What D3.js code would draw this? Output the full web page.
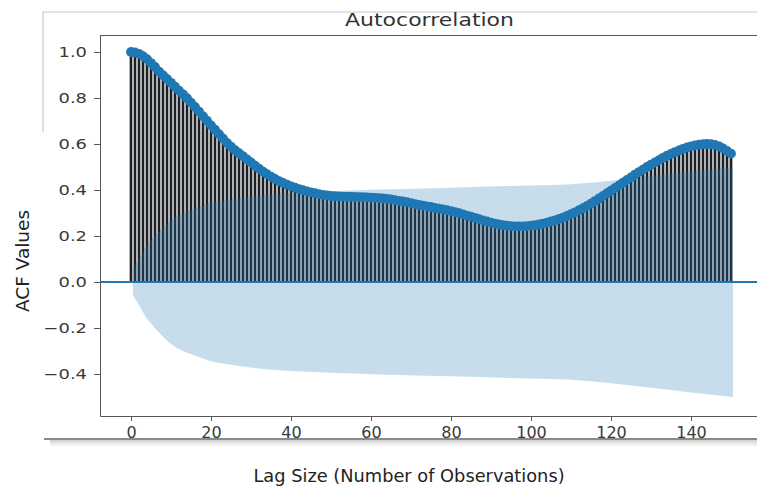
<!DOCTYPE html>
<html>
<head>
<meta charset="utf-8">
<script src="https://cdn.jsdelivr.net/npm/d3@7"></script>
<style>
body { margin: 0; background: #fff; }
svg { display: block; font-family: "DejaVu Sans", sans-serif; }
</style>
</head>
<body>
<svg id="chart" width="757" height="488"></svg>
<script>
// autocorrelation per lag (lag 0..150)
var acfValues = [
    1.000, 0.998, 0.992, 0.982, 0.969, 0.952, 0.935, 0.915, 0.899, 0.883,
    0.866, 0.849, 0.832, 0.816, 0.799, 0.780, 0.761, 0.741, 0.721, 0.701,
    0.681, 0.662, 0.643, 0.624, 0.605, 0.588, 0.573, 0.560, 0.547, 0.533,
    0.520, 0.506, 0.493, 0.480, 0.469, 0.458, 0.448, 0.439, 0.431, 0.423,
    0.416, 0.410, 0.404, 0.399, 0.394, 0.390, 0.386, 0.382, 0.379, 0.376,
    0.374, 0.373, 0.372, 0.371, 0.371, 0.370, 0.370, 0.369, 0.369, 0.368,
    0.367, 0.366, 0.365, 0.363, 0.361, 0.359, 0.356, 0.353, 0.350, 0.347,
    0.343, 0.339, 0.335, 0.332, 0.329, 0.326, 0.322, 0.319, 0.316, 0.312,
    0.308, 0.304, 0.299, 0.294, 0.289, 0.284, 0.279, 0.273, 0.268, 0.263,
    0.258, 0.254, 0.250, 0.247, 0.245, 0.243, 0.242, 0.242, 0.242, 0.243,
    0.245, 0.247, 0.250, 0.254, 0.258, 0.263, 0.268, 0.274, 0.280, 0.287,
    0.295, 0.303, 0.312, 0.321, 0.331, 0.341, 0.352, 0.363, 0.374, 0.386,
    0.397, 0.409, 0.420, 0.432, 0.444, 0.455, 0.467, 0.478, 0.489, 0.500,
    0.510, 0.520, 0.530, 0.540, 0.549, 0.557, 0.565, 0.572, 0.579, 0.585,
    0.590, 0.594, 0.597, 0.599, 0.600, 0.599, 0.596, 0.590, 0.581, 0.570,
    0.558
];

// confidence band half-width at selected lags
var bandLags = [0.5, 2, 3, 4, 5, 7, 10, 13, 16, 20, 25, 30, 38, 50, 62, 80, 100, 110, 120, 130, 140, 150.5];
var bandHalf = [0.06, 0.10, 0.13, 0.16, 0.18, 0.22, 0.27, 0.30, 0.32, 0.345, 0.36, 0.372, 0.385, 0.395, 0.402, 0.41, 0.42, 0.425, 0.44, 0.46, 0.48, 0.50];

var xTickValues = [0, 20, 40, 60, 80, 100, 120, 140];
var yTickValues = [-0.4, -0.2, 0.0, 0.2, 0.4, 0.6, 0.8, 1.0];

var svg = d3.select("#chart");

var x = d3.scaleLinear().domain([-7.75, 156.5]).range([100, 757]);
var y = d3.scaleLinear().domain([-0.5826, 1.0739]).range([416, 35]);

var stemData = acfValues.map(function (v, i) {
    return {lag: i, value: v};
});
var bandData = bandLags.map(function (l, i) {
    return {lag: l, half: bandHalf[i]};
});

// outer frame remnants of the screenshot
svg.append("line")
    .attr("x1", 43).attr("x2", 757).attr("y1", 12).attr("y2", 12)
    .attr("stroke", "#c8c8c8").attr("stroke-width", 1.2);
svg.append("line")
    .attr("x1", 43).attr("x2", 43).attr("y1", 12).attr("y2", 132)
    .attr("stroke", "#c8c8c8").attr("stroke-width", 1.2);
[[441, 0.35], [443, 0.2], [445, 0.1]].forEach(function (s) {
    svg.append("line")
        .attr("x1", 50).attr("x2", 757).attr("y1", s[0]).attr("y2", s[0])
        .attr("stroke", "#888").attr("stroke-opacity", s[1]).attr("stroke-width", 2);
});
svg.append("line")
    .attr("x1", 44).attr("x2", 757).attr("y1", 439).attr("y2", 439)
    .attr("stroke", "#8a8a8a").attr("stroke-width", 2);

var plot = svg.append("g");

// stems
plot.selectAll("line.stem")
    .data(stemData)
    .enter().append("line")
    .attr("class", "stem")
    .attr("x1", function (d) { return x(d.lag); })
    .attr("x2", function (d) { return x(d.lag); })
    .attr("y1", y(0))
    .attr("y2", function (d) { return y(d.value); })
    .attr("stroke", "#1d2024")
    .attr("stroke-width", 2.7);

// zero line
plot.append("line")
    .attr("x1", 100).attr("x2", 757)
    .attr("y1", y(0)).attr("y2", y(0))
    .attr("stroke", "#1f77b4")
    .attr("stroke-width", 2);

// markers
plot.selectAll("circle")
    .data(stemData)
    .enter().append("circle")
    .attr("cx", function (d) { return x(d.lag); })
    .attr("cy", function (d) { return y(d.value); })
    .attr("r", 4.9)
    .attr("fill", "#1f77b4");

// confidence band
var band = d3.area()
    .x(function (d) { return x(d.lag); })
    .y0(function (d) { return y(-d.half); })
    .y1(function (d) { return y(d.half); })
    .curve(d3.curveMonotoneX);

plot.append("path")
    .datum(bandData)
    .attr("d", band)
    .attr("fill", "#1f77b4")
    .attr("fill-opacity", 0.25);

// axes
var yAxis = svg.append("g")
    .attr("transform", "translate(100,0)")
    .call(d3.axisLeft(y).tickValues(yTickValues).tickSize(6).tickSizeOuter(0).tickFormat(d3.format(".1f")));
yAxis.select(".domain").attr("stroke", "#555");
yAxis.selectAll(".tick line").attr("stroke", "#555");
yAxis.selectAll(".tick text")
    .attr("x", 0)
    .attr("transform", "translate(-13,0) scale(1.28,1)")
    .attr("fill", "#3a3a3a")
    .style("font-size", "14px")
    .style("font-family", "DejaVu Sans");

var xAxis = svg.append("g")
    .attr("transform", "translate(0,416)")
    .call(d3.axisBottom(x).tickValues(xTickValues).tickSize(5).tickSizeOuter(0).tickFormat(d3.format("d")));
xAxis.select(".domain").attr("stroke", "#555");
xAxis.selectAll(".tick line").attr("stroke", "#555");
xAxis.selectAll(".tick text")
    .attr("y", 22)
    .attr("dy", 0)
    .attr("fill", "#3a3a3a")
    .style("font-size", "16px")
    .style("font-family", "DejaVu Sans");

svg.append("line")
    .attr("x1", 100).attr("x2", 757).attr("y1", 35.5).attr("y2", 35.5)
    .attr("stroke", "#555").attr("stroke-width", 1.2);

// labels
svg.append("text")
    .attr("x", 429.5).attr("y", 26)
    .attr("text-anchor", "middle")
    .attr("textLength", 169)
    .attr("lengthAdjust", "spacingAndGlyphs")
    .attr("fill", "#333")
    .style("font-size", "17.5px")
    .text("Autocorrelation");

svg.append("text")
    .attr("x", 409).attr("y", 482)
    .attr("text-anchor", "middle")
    .attr("fill", "#222")
    .style("font-size", "17.8px")
    .text("Lag Size (Number of Observations)");

svg.append("text")
    .attr("transform", "translate(29,261) rotate(-90)")
    .attr("text-anchor", "middle")
    .attr("fill", "#222")
    .style("font-size", "18.5px")
    .text("ACF Values");
</script>
</body>
</html>
